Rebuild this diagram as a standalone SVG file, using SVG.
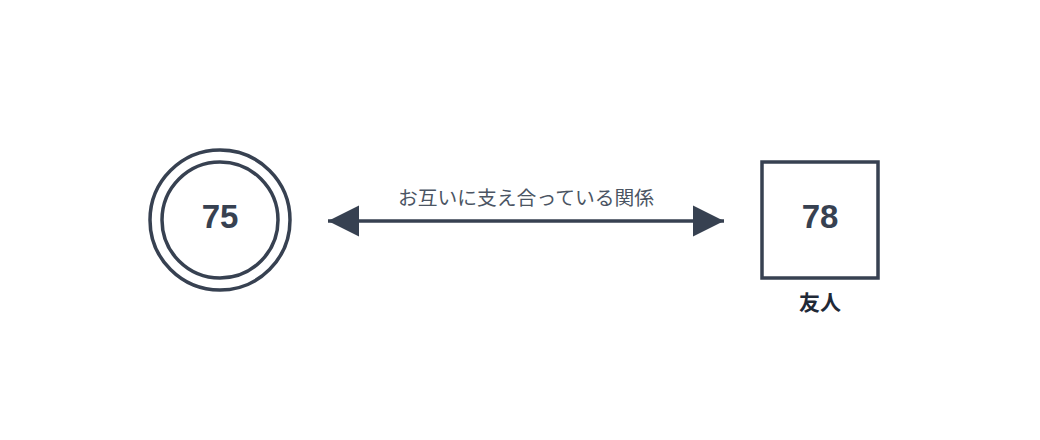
<svg xmlns="http://www.w3.org/2000/svg" width="1040" height="440" viewBox="0 0 1040 440">
<defs>
<style>
.s{fill:none;stroke:#374151;stroke-width:3.5}
.num{font-family:"Liberation Sans",Arial,sans-serif;font-weight:bold;font-size:33px;fill:#374151;text-anchor:middle}
.lbl{font-family:"Noto Sans CJK JP","Noto Sans",sans-serif;font-size:19.8px;fill:#4b5563;text-anchor:middle}
.cap{font-family:"Noto Sans CJK JP","Noto Sans",sans-serif;font-weight:bold;font-size:21px;fill:#1f2937;text-anchor:middle}
</style>
<marker id="ah" viewBox="0 0 10 10" refX="10" refY="5" markerWidth="31" markerHeight="32" markerUnits="userSpaceOnUse" orient="auto-start-reverse">
<path d="M0,0 L10,5 L0,10 Z" fill="#374151"/>
</marker>
</defs>
<rect width="1040" height="440" fill="#ffffff"/>
<g id="connectors">
<line x1="328" y1="221" x2="724" y2="221" stroke="#374151" stroke-width="3.5" marker-start="url(#ah)" marker-end="url(#ah)"/>
<text class="lbl" x="526" y="205">お互いに支え合っている関係</text>
</g>
<g id="node-75">
<circle class="s" cx="220" cy="220" r="70"/>
<circle class="s" cx="220" cy="220" r="58"/>
<text class="num" x="220" y="228">75</text>
</g>
<g id="node-78">
<rect class="s" x="762" y="162" width="116" height="116"/>
<text class="num" x="820" y="228">78</text>
<text class="cap" x="820" y="310">友人</text>
</g>
</svg>
